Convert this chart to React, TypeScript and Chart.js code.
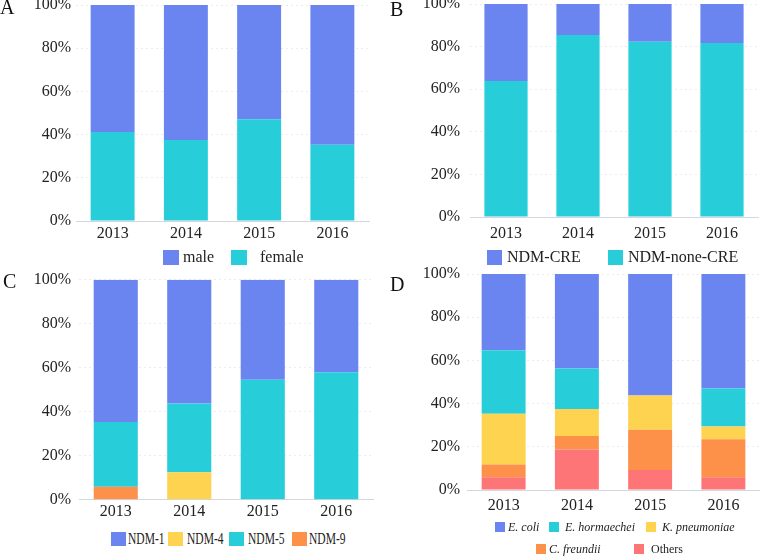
import React, { useEffect, useRef } from 'react';
import { Chart, registerables } from 'chart.js';

Chart.register(...registerables);

// ---------- data ----------
const years = ['2013', '2014', '2015', '2016'];
const yTickStep = 20;
const yMax = 100;

// A: gender
const male = [58.8, 62.5, 52.9, 64.7];
const female = [41.2, 37.5, 47.1, 35.3];

// B: CRE status
const ndmCre = [36.1, 14.6, 17.7, 18.3];
const ndmNoneCre = [63.9, 85.4, 82.3, 81.7];

// C: NDM variants
const ndm1 = [64.7, 56.25, 45.5, 42.1];
const ndm4 = [0, 12.5, 0, 0];
const ndm5 = [29.4, 31.25, 54.5, 57.9];
const ndm9 = [5.9, 0, 0, 0];

// D: species
const eColi = [35.3, 43.75, 56.3, 53.0];
const eHormaechei = [29.4, 18.75, 0, 17.6];
const kPneumoniae = [23.5, 12.5, 15.8, 5.9];
const cFreundii = [5.9, 6.25, 18.6, 17.6];
const others = [5.9, 18.75, 9.3, 5.9];

// ---------- styles ----------
const BLUE = '#6a84f0';
const CYAN = '#27ced9';
const YELLOW = '#fdd34f';
const ORANGE = '#fd914a';
const PINK = '#fd7577';
const FONT = '"Liberation Serif", "Times New Roman", serif';
const TEXT = '#222222';

type Series = { label: string; data: number[]; color: string };
type LegendItem = { label: string; color: string; italic?: boolean; box: number; text: number; cy: number };

type PanelCfg = {
  letter: string;
  letterX: number;
  letterY: number;
  left: number;
  top: number;
  width: number;
  height: number;
  yAxisW: number;
  padRight: number;
  padTop: number;
  xAxisH: number;
  yPad: number;
  xPad: number;
  stack: Series[]; // bottom to top
  legend: LegendItem[];
  legendBoxW: number;
  legendBoxH: number;
  legendFont: number;
  legendScaleX?: number;
};

const panels: PanelCfg[] = [
  {
    letter: 'A', letterX: 0, letterY: -3.5,
    left: 0, top: 0, width: 380, height: 250,
    yAxisW: 76, padRight: 11, padTop: 5, xAxisH: 29, yPad: 5, xPad: 3,
    stack: [
      { label: 'female', data: female, color: CYAN },
      { label: 'male', data: male, color: BLUE },
    ],
    legend: [
      { label: 'male', color: BLUE, box: 163, text: 183, cy: 257 },
      { label: 'female', color: CYAN, box: 231, text: 260, cy: 257 },
    ],
    legendBoxW: 16, legendBoxH: 15, legendFont: 16,
  },
  {
    letter: 'B', letterX: 390, letterY: -1.5,
    left: 380, top: 0, width: 380, height: 250,
    yAxisW: 90, padRight: 2, padTop: 4, xAxisH: 33, yPad: 10, xPad: 7,
    stack: [
      { label: 'NDM-none-CRE', data: ndmNoneCre, color: CYAN },
      { label: 'NDM-CRE', data: ndmCre, color: BLUE },
    ],
    legend: [
      { label: 'NDM-CRE', color: BLUE, box: 487, text: 507, cy: 257 },
      { label: 'NDM-none-CRE', color: CYAN, box: 608, text: 628, cy: 257 },
    ],
    legendBoxW: 15, legendBoxH: 15, legendFont: 16,
  },
  {
    letter: 'C', letterX: 3, letterY: 270.5,
    left: 0, top: 270, width: 380, height: 255,
    yAxisW: 79, padRight: 7, padTop: 9.7, xAxisH: 25.3, yPad: 8, xPad: 2,
    stack: [
      { label: 'NDM-9', data: ndm9, color: ORANGE },
      { label: 'NDM-4', data: ndm4, color: YELLOW },
      { label: 'NDM-5', data: ndm5, color: CYAN },
      { label: 'NDM-1', data: ndm1, color: BLUE },
    ],
    legend: [
      { label: 'NDM-1', color: BLUE, box: 111, text: 128, cy: 539 },
      { label: 'NDM-4', color: YELLOW, box: 168, text: 187, cy: 539 },
      { label: 'NDM-5', color: CYAN, box: 229, text: 248, cy: 539 },
      { label: 'NDM-9', color: ORANGE, box: 292, text: 309, cy: 539 },
    ],
    legendBoxW: 15, legendBoxH: 14, legendFont: 16, legendScaleX: 0.72,
  },
  {
    letter: 'D', letterX: 390, letterY: 273.5,
    left: 380, top: 262, width: 380, height: 260,
    yAxisW: 87, padRight: 0, padTop: 12, xAxisH: 32, yPad: 7, xPad: 6,
    stack: [
      { label: 'Others', data: others, color: PINK },
      { label: 'C. freundii', data: cFreundii, color: ORANGE },
      { label: 'K. pneumoniae', data: kPneumoniae, color: YELLOW },
      { label: 'E. hormaechei', data: eHormaechei, color: CYAN },
      { label: 'E. coli', data: eColi, color: BLUE },
    ],
    legend: [
      { label: 'E. coli', color: BLUE, italic: true, box: 495, text: 508, cy: 527 },
      { label: 'E. hormaechei', color: CYAN, italic: true, box: 549, text: 565, cy: 527 },
      { label: 'K. pneumoniae', color: YELLOW, italic: true, box: 646, text: 662, cy: 527 },
      { label: 'C. freundii', color: ORANGE, italic: true, box: 536, text: 549, cy: 549 },
      { label: 'Others', color: PINK, box: 634, text: 651, cy: 549 },
    ],
    legendBoxW: 10, legendBoxH: 10, legendFont: 12,
  },
];

function Panel({ cfg }: { cfg: PanelCfg }) {
  const ref = useRef<HTMLCanvasElement | null>(null);
  useEffect(() => {
    let chart: Chart | null = null;
    let cancelled = false;
    const make = () => {
      if (cancelled || !ref.current || chart) return;
      const tickFont = { family: FONT, size: 16 };
      chart = new Chart(ref.current, {
        type: 'bar',
        data: {
          labels: years,
          datasets: cfg.stack.map((s) => ({
            label: s.label,
            data: s.data,
            backgroundColor: s.color,
            borderWidth: 0,
            barPercentage: 0.6,
            categoryPercentage: 1,
          })),
        },
        options: {
          responsive: false,
          animation: false,
          devicePixelRatio: 1,
          layout: { padding: { left: 0, right: cfg.padRight, top: cfg.padTop, bottom: 0 } },
          plugins: { legend: { display: false }, tooltip: { enabled: false } },
          scales: {
            x: {
              stacked: true,
              grid: { display: false, drawTicks: false },
              border: { display: true, color: '#d3d7e0', width: 1 },
              ticks: { font: tickFont, color: TEXT, padding: cfg.xPad, maxRotation: 0 },
              afterFit: (s: any) => {
                s.height = cfg.xAxisH;
                s.paddingLeft = 0;
                s.paddingRight = 0;
              },
            },
            y: {
              stacked: true,
              min: 0,
              max: yMax,
              grid: { color: '#ececec', drawTicks: false, lineWidth: 1 },
              border: { display: false, dash: [2, 3] },
              ticks: {
                stepSize: yTickStep,
                font: tickFont,
                color: TEXT,
                padding: cfg.yPad,
                callback: (v: any) => `${v}%`,
              },
              afterFit: (s: any) => {
                s.width = cfg.yAxisW;
                s.paddingTop = 0;
                s.paddingBottom = 0;
              },
            },
          },
        } as any,
      });
    };
    const fonts: any = (document as any).fonts;
    if (fonts && fonts.load) {
      Promise.all([
        fonts.load('16px "Liberation Serif"'),
        fonts.load('italic 12px "Liberation Serif"'),
      ]).then(make, make);
    } else {
      make();
    }
    return () => {
      cancelled = true;
      if (chart) chart.destroy();
      chart = null;
    };
  }, [cfg]);

  const lineH = cfg.legendFont + 4;
  return (
    <>
      <canvas
        ref={ref}
        width={cfg.width}
        height={cfg.height}
        style={{ position: 'absolute', left: cfg.left, top: cfg.top, width: cfg.width, height: cfg.height, display: 'block' }}
      />
      <div
        style={{
          position: 'absolute',
          left: cfg.letterX,
          top: cfg.letterY,
          fontFamily: FONT,
          fontSize: 20,
          lineHeight: '20px',
          color: '#111',
        }}
      >
        {cfg.letter}
      </div>
      {cfg.legend.map((it) => (
        <React.Fragment key={it.label}>
          <div
            style={{
              position: 'absolute',
              left: it.box,
              top: it.cy - cfg.legendBoxH / 2,
              width: cfg.legendBoxW,
              height: cfg.legendBoxH,
              background: it.color,
            }}
          />
          <div
            style={{
              position: 'absolute',
              left: it.text,
              top: it.cy - lineH / 2,
              fontFamily: FONT,
              fontSize: cfg.legendFont,
              lineHeight: `${lineH}px`,
              fontStyle: it.italic ? 'italic' : 'normal',
              color: TEXT,
              whiteSpace: 'nowrap',
              transform: cfg.legendScaleX ? `scaleX(${cfg.legendScaleX})` : undefined,
              transformOrigin: 'left center',
            }}
          >
            {it.label}
          </div>
        </React.Fragment>
      ))}
    </>
  );
}

export default function App() {
  return (
    <div
      style={{
        position: 'absolute',
        left: 0,
        top: 0,
        width: 760,
        height: 556,
        background: '#ffffff',
        overflow: 'hidden',
      }}
    >
      {panels.map((p) => (
        <Panel key={p.letter} cfg={p} />
      ))}
    </div>
  );
}
